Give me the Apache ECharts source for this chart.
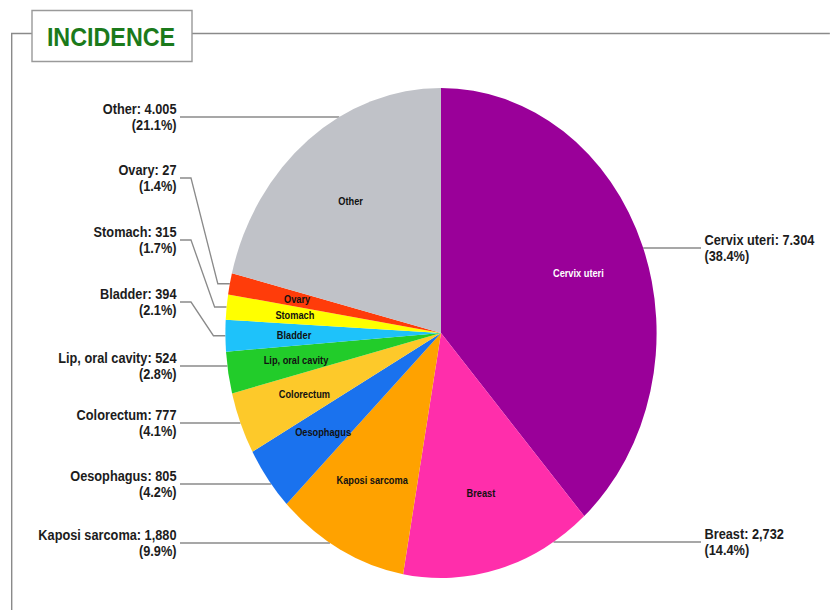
<!DOCTYPE html>
<html>
<head>
<meta charset="utf-8">
<script src="https://cdn.jsdelivr.net/npm/echarts@6/dist/echarts.min.js"></script>
<style>
  html, body { margin: 0; padding: 0; background: #fff; overflow: hidden; width: 830px; height: 610px; }
  /* The stage is squeezed horizontally: the pie renders as a tall oval and all lettering reads condensed. */
  #stage { position: absolute; left: 0; top: 0; width: 943px; height: 610px; transform: scaleX(0.88); transform-origin: 0 0; }
</style>
</head>
<body>
<div id="stage"></div>
<script>
// ---- data ----
const categories = ['Cervix uteri', 'Breast', 'Kaposi sarcoma', 'Oesophagus', 'Colorectum',
                    'Lip, oral cavity', 'Bladder', 'Stomach', 'Ovary', 'Other'];
// new cases; the ovary count is printed as "27" in the source table, its 1.4% share corresponds to 267
const cases = [7304, 2732, 1880, 805, 777, 524, 394, 315, 267, 4005];
// counts as printed next to each slice
const caseLabels = ['7.304', '2,732', '1,880', '805', '777', '524', '394', '315', '27', '4.005'];
const sliceColors = ['#9a0099', '#ff2eab', '#ffa200', '#1a72ee', '#fdc92a',
                     '#22cc2a', '#1ec2fa', '#ffff00', '#ff3c0a', '#c0c2c8'];

// ---- layout ----
const X_SCALE = 0.88;                 // must equal the CSS scaleX of #stage
const sx = px => px / X_SCALE;        // screen px -> chart units (horizontal)
const CENTER = [sx(441), 333];
const RADIUS = 245;
const FONT = '"Liberation Sans", Arial, Helvetica, sans-serif';

// where each outside label sits: leader height and side; thin slices get an elbowed leader
const labelPlacement = {
  'Cervix uteri':     { y: 248, side: 'right' },
  'Breast':           { y: 542, side: 'right' },
  'Kaposi sarcoma':   { y: 543, side: 'left' },
  'Oesophagus':       { y: 484, side: 'left' },
  'Colorectum':       { y: 423, side: 'left' },
  'Lip, oral cavity': { y: 366, side: 'left' },
  'Bladder':          { y: 302, side: 'left', elbow: true },
  'Stomach':          { y: 240, side: 'left', elbow: true },
  'Ovary':            { y: 178, side: 'left', elbow: true },
  'Other':            { y: 117, side: 'left' }
};
const LEFT_EDGE = sx(180);
const RIGHT_EDGE = sx(701);

const total = cases.reduce((a, b) => a + b, 0);
const share = v => (v / total * 100).toFixed(1);

const sliceData = categories.map((name, i) => {
  const right = labelPlacement[name].side === 'right';
  return {
    name: name,
    value: cases[i],
    itemStyle: { color: sliceColors[i] },
    label: { align: right ? 'left' : 'right', padding: right ? [6, 0, 0, 4] : [6, 4, 0, 0] }
  };
});

const innerData = categories.map((name, i) => ({
  name: name,
  value: cases[i],
  label: { color: i === 0 ? '#ffffff' : '#111111' }
}));

const lineColor = '#8a8a8a';

// leader path: straight across to where the label row meets the rim,
// or for thin slices a short elbow into the slice's mid-rim point
function leaderPoints(params, pl, labelX) {
  const right = pl.side === 'right';
  if (pl.elbow) {
    const a = params.labelLinePoints[0];
    return [a, [a[0] - sx(12), a[1]], [labelX + sx(11), pl.y], [labelX, pl.y]];
  }
  const dy = pl.y - CENTER[1];
  const dx = Math.sqrt(RADIUS * RADIUS - dy * dy);
  const rimX = right ? CENTER[0] + dx : CENTER[0] - dx;
  return [[rimX, pl.y], [labelX, pl.y]];
}

const chart = echarts.init(document.getElementById('stage'), null, { renderer: 'svg' });
chart.setOption({
  animation: false,
  backgroundColor: '#ffffff',
  graphic: [
    { type: 'polyline', z: 1,
      shape: { points: [[sx(11.7), 610], [sx(11.7), 33.5], [sx(32), 33.5]] },
      style: { stroke: lineColor, lineWidth: 1.6, fill: null } },
    { type: 'line', z: 1,
      shape: { x1: sx(192), y1: 33.5, x2: sx(830), y2: 33.5 },
      style: { stroke: lineColor, lineWidth: 1.6 } },
    { type: 'rect', z: 2,
      shape: { x: sx(32), y: 10.5, width: sx(160), height: 51 },
      style: { fill: '#ffffff', stroke: '#9a9a9a', lineWidth: 1.6 } },
    { type: 'text', z: 3, x: sx(111), y: 36,
      style: { text: 'INCIDENCE', align: 'center', verticalAlign: 'middle',
               font: 'bold 26.5px ' + FONT, fill: '#1b7a1b' } }
  ],
  series: [
    {
      // slices with their outside count labels and leaders
      type: 'pie',
      center: CENTER,
      radius: RADIUS,
      startAngle: 90,
      clockwise: true,
      silent: true,
      avoidLabelOverlap: false,
      emphasis: { disabled: true },
      data: sliceData,
      itemStyle: { borderWidth: 0 },
      label: {
        show: true,
        position: 'outside',
        formatter: p => p.name + ': ' + caseLabels[p.dataIndex] + '\n(' + share(p.value) + '%)',
        fontFamily: FONT,
        fontSize: 14.5,
        fontWeight: 'bold',
        color: '#1c1c1c',
        lineHeight: 16
      },
      labelLine: {
        show: true,
        length: 10,
        length2: 10,
        smooth: false,
        lineStyle: { color: lineColor, width: 1.5 }
      },
      labelLayout: p => {
        const pl = labelPlacement[categories[p.dataIndex]];
        const right = pl.side === 'right';
        const x = right ? RIGHT_EDGE : LEFT_EDGE;
        return {
          x: x,
          y: pl.y,
          align: right ? 'left' : 'right',
          verticalAlign: 'middle',
          labelLinePoints: leaderPoints(p, pl, x)
        };
      }
    },
    {
      // slice names written inside the slices (transparent ring keeps them at ~2/3 radius)
      type: 'pie',
      center: CENTER,
      radius: [83, RADIUS],
      startAngle: 90,
      clockwise: true,
      silent: true,
      avoidLabelOverlap: false,
      emphasis: { disabled: true },
      data: innerData,
      itemStyle: { color: 'rgba(0,0,0,0)', borderWidth: 0 },
      label: {
        show: true,
        position: 'inside',
        formatter: '{b}',
        fontFamily: FONT,
        fontSize: 10.5,
        fontWeight: 'bold'
      },
      labelLine: { show: false }
    }
  ]
});
</script>
</body>
</html>
